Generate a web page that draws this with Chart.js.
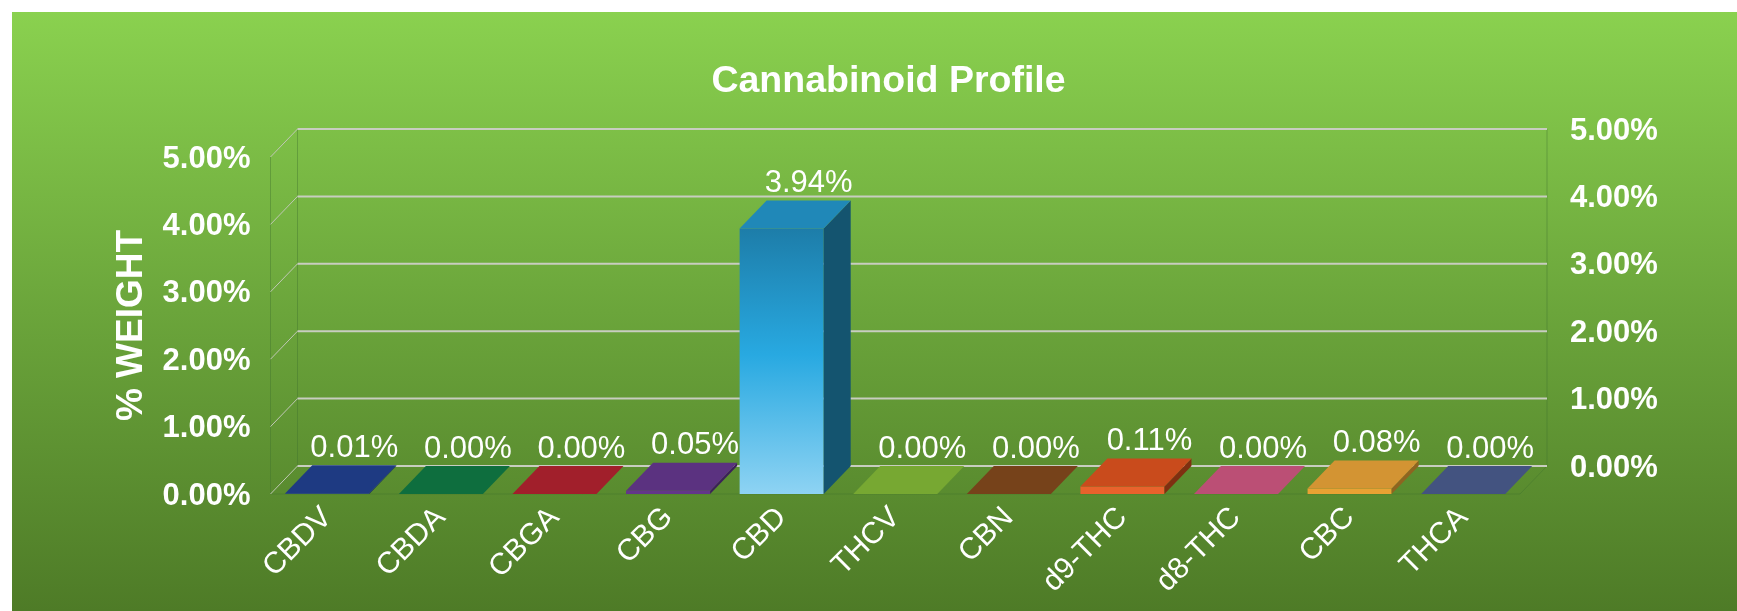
<!DOCTYPE html>
<html>
<head>
  <title>Cannabinoid Profile</title>
  <script src="https://cdn.jsdelivr.net/npm/chart.js"></script>
  <style>
    html, body { margin: 0; padding: 0; background: #fff; }
    canvas { display: block; }
  </style>
</head>
<body>
  <canvas id="profileChart" width="1737" height="611"></canvas>

  <script>
    const categories = ['CBDV', 'CBDA', 'CBGA', 'CBG', 'CBD', 'THCV', 'CBN', 'd9-THC', 'd8-THC', 'CBC', 'THCA'];
    const weights = [0.01, 0, 0, 0.05, 3.94, 0, 0, 0.11, 0, 0.08, 0];
    const tickValues = [0, 1, 2, 3, 4, 5];

    const frontColors = ['#24408c', '#107544', '#ad2530', '#633789', '#28a9e1', '#7cae36', '#7c461c', '#e8622c', '#c25479', '#e9a233', '#475885'];
    const topColors = ['#1e3a82', '#0e6e3e', '#a11f2b', '#5b3280', '#2088b8', '#77a832', '#76421a', '#c94b1c', '#bb4f75', '#d39433', '#435380'];
    const sideColors = ['#15285a', '#0a4c2b', '#70161e', '#3c2059', '#14546f', '#527524', '#522e12', '#7f2f11', '#823751', '#8f6420', '#2e3958'];

    // how far the back wall sits from the front plane
    const depthX = 27;
    const depthY = 28;

    const fontName = '"Liberation Sans", Arial, sans-serif';

    const pseudo3d = {
      id: 'pseudo3d',
      beforeDraw(chart) {
        const ctx = chart.ctx;
        const g = ctx.createLinearGradient(0, 12, 0, 611);
        g.addColorStop(0, '#8ad14f');
        g.addColorStop(0.5, '#6ba53b');
        g.addColorStop(1, '#4e7b27');
        ctx.save();
        ctx.fillStyle = g;
        ctx.fillRect(12, 12, chart.width - 12, chart.height - 12);
        ctx.restore();
      },
      beforeDatasetsDraw(chart) {
        const { ctx, chartArea: area, scales } = chart;
        const y = scales.y;
        ctx.save();

        // faint wall edges
        ctx.strokeStyle = 'rgba(62,112,44,0.4)';
        ctx.lineWidth = 1;
        ctx.beginPath();
        ctx.moveTo(area.left, area.top);
        ctx.lineTo(area.left, area.bottom);
        ctx.lineTo(area.right, area.bottom);
        ctx.lineTo(area.right + depthX, area.bottom - depthY);
        ctx.lineTo(area.right + depthX, area.top - depthY);
        ctx.moveTo(area.left + depthX, area.top - depthY);
        ctx.lineTo(area.left + depthX, area.bottom - depthY);
        ctx.stroke();

        // grid lines on the side wall and back wall
        tickValues.forEach(v => {
          const py = y.getPixelForValue(v);
          ctx.strokeStyle = '#bfc7b4';
          ctx.lineWidth = 1;
          ctx.beginPath();
          ctx.moveTo(area.left, py);
          ctx.lineTo(area.left + depthX, py - depthY);
          ctx.stroke();
          ctx.strokeStyle = '#c8cdc0';
          ctx.lineWidth = 2;
          ctx.beginPath();
          ctx.moveTo(area.left + depthX, py - depthY);
          ctx.lineTo(area.right + depthX, py - depthY);
          ctx.stroke();
        });
        ctx.restore();
      },
      afterDatasetsDraw(chart) {
        const { ctx } = chart;
        const bars = chart.getDatasetMeta(0).data;
        ctx.save();
        bars.forEach((bar, i) => {
          const half = bar.width / 2;
          const left = bar.x - half;
          const right = bar.x + half;

          ctx.fillStyle = sideColors[i];
          ctx.beginPath();
          ctx.moveTo(right, bar.y);
          ctx.lineTo(right + depthX, bar.y - depthY);
          ctx.lineTo(right + depthX, bar.base - depthY);
          ctx.lineTo(right, bar.base);
          ctx.closePath();
          ctx.fill();

          ctx.fillStyle = topColors[i];
          ctx.beginPath();
          ctx.moveTo(left, bar.y);
          ctx.lineTo(left + depthX, bar.y - depthY);
          ctx.lineTo(right + depthX, bar.y - depthY);
          ctx.lineTo(right, bar.y);
          ctx.closePath();
          ctx.fill();

          ctx.fillStyle = '#fff';
          ctx.font = '31px ' + fontName;
          ctx.textAlign = 'center';
          ctx.textBaseline = 'middle';
          ctx.fillText(weights[i].toFixed(2) + '%', bar.x + depthX, bar.y - depthY - 17);
        });
        ctx.restore();
      }
    };

    function frontFill(c) {
      if (c.dataIndex !== 4 || !c.chart.chartArea) return frontColors[c.dataIndex];
      const y = c.chart.scales.y;
      const g = c.chart.ctx.createLinearGradient(0, y.getPixelForValue(weights[4]), 0, y.getPixelForValue(0));
      g.addColorStop(0, '#1d7da9');
      g.addColorStop(0.476, '#28a9e1');
      g.addColorStop(1, '#8ed3f3');
      return g;
    }

    const ctx = document.getElementById('profileChart').getContext('2d');
    new Chart(ctx, {
      type: 'bar',
      data: {
        labels: categories,
        datasets: [{
          data: weights,
          backgroundColor: frontFill,
          barPercentage: 0.74,
          categoryPercentage: 1,
          borderWidth: 0,
          yAxisID: 'y'
        }]
      },
      plugins: [pseudo3d],
      options: {
        responsive: false,
        animation: false,
        layout: { padding: { left: 40 } },
        plugins: {
          legend: { display: false },
          tooltip: { enabled: false },
          title: {
            display: true,
            text: 'Cannabinoid Profile',
            color: '#fff',
            font: { family: fontName, size: 37.5, weight: 'bold' },
            padding: { top: 59.5, bottom: 52.5 }
          }
        },
        scales: {
          x: {
            grid: { display: false },
            border: { display: false },
            afterFit: s => { s.height = 117; },
            ticks: {
              color: '#fff',
              font: { family: fontName, size: 30 },
              maxRotation: 45,
              minRotation: 45,
              autoSkip: false,
              padding: -2
            }
          },
          y: {
            min: 0,
            max: 5,
            grid: { display: false },
            border: { display: false },
            afterFit: s => { s.width = 230.5; },
            title: {
              display: true,
              text: '% WEIGHT',
              color: '#fff',
              font: { family: fontName, size: 37, weight: 'bold' },
              padding: { top: 70, bottom: 0 }
            },
            ticks: {
              stepSize: 1,
              color: '#fff',
              font: { family: fontName, size: 31, weight: 'bold' },
              padding: 12,
              labelOffset: 2,
              callback: v => v.toFixed(2) + '%'
            }
          },
          y1: {
            position: 'right',
            min: 0,
            max: 5,
            grid: { display: false },
            border: { display: false },
            afterFit: s => { s.width = 217; },
            ticks: {
              stepSize: 1,
              color: '#fff',
              font: { family: fontName, size: 31, weight: 'bold' },
              padding: 42,
              labelOffset: -26,
              callback: v => v.toFixed(2) + '%'
            }
          }
        }
      }
    });
  </script>
</body>
</html>
